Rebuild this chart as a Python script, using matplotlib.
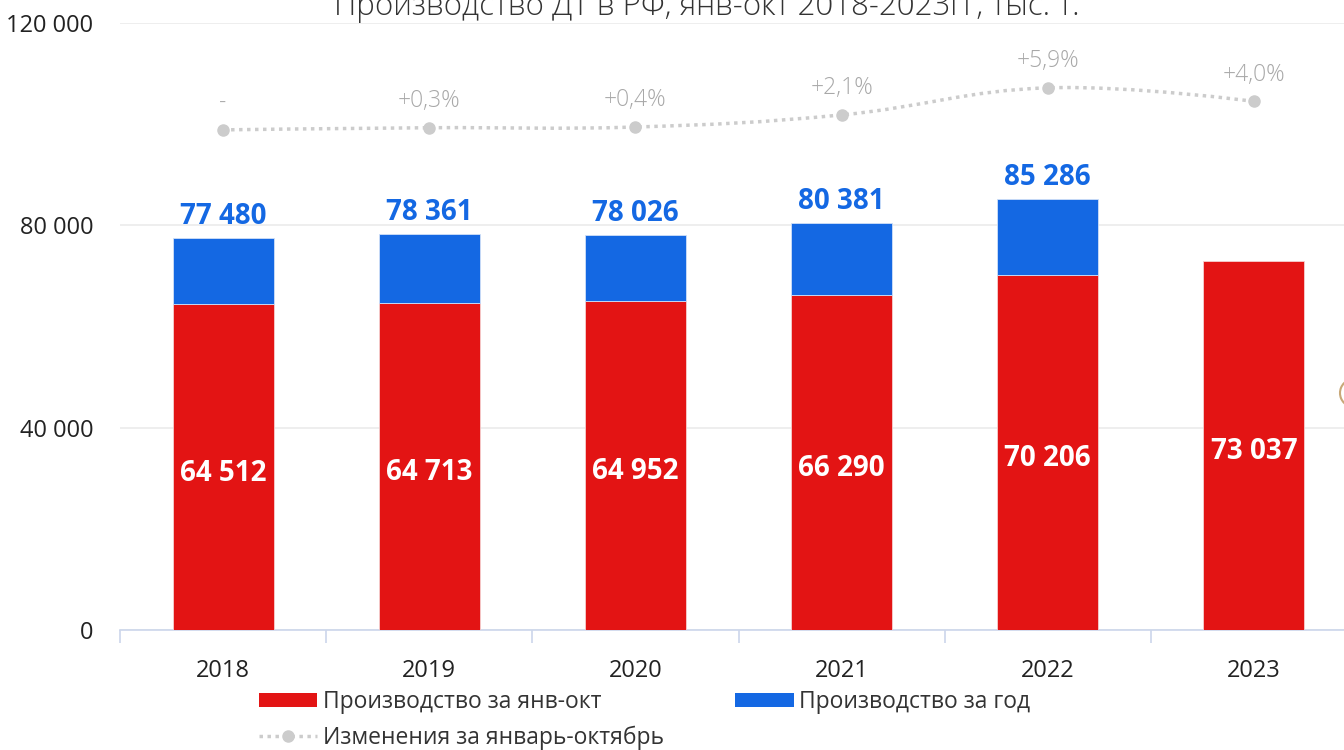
import matplotlib
matplotlib.use("Agg")
import matplotlib.pyplot as plt
from matplotlib.path import Path
from matplotlib.patches import PathPatch, Patch, Arc
from matplotlib.lines import Line2D
import numpy as np

plt.rcParams['font.family'] = ['Open Sans', 'DejaVu Sans']

years = ['2018', '2019', '2020', '2021', '2022', '2023']
jan_oct = [64512, 64713, 64952, 66290, 70206, 73037]
full_year = [77480, 78361, 78026, 80381, 85286, None]
change_pct = [0.0, 0.3, 0.4, 2.1, 5.9, 4.0]
change_labels = ['-', '+0,3%', '+0,4%', '+2,1%', '+5,9%', '+4,0%']
title = 'Производство ДТ в РФ, янв-окт 2018-2023гг, тыс. т.'
legend_labels = ['Производство за янв-окт', 'Производство за год', 'Изменения за январь-октябрь']
yticks = [0, 40000, 80000, 120000]

RED = '#e31414'
BLUE = '#1468e3'
GRAY = '#cccccc'

W, H = 1344, 750
fig = plt.figure(figsize=(W / 100, H / 100), dpi=100)
left_px, right_px, top_px, bot_px = 120, 1357, 23, 630
ax = fig.add_axes([left_px / W, (H - bot_px) / H, (right_px - left_px) / W, (bot_px - top_px) / H])

x = np.arange(len(years))
bw = 0.49
ax.bar(x, jan_oct, width=bw, color=RED, edgecolor='#f5d0d0', linewidth=0.6, zorder=3)
for i, (r, t) in enumerate(zip(jan_oct, full_year)):
    if t is not None:
        ax.bar(x[i], t - r, bottom=r, width=bw, color=BLUE, edgecolor='#d0e0f8', linewidth=0.6, zorder=3)
        ax.text(x[i], t + 1400, f"{t:,}".replace(',', ' '), ha='center', va='bottom',
                fontsize=20, fontweight='bold', color=BLUE, zorder=5)
    ax.annotate(f"{r:,}".replace(',', ' '), (x[i], r / 2), xytext=(0, -4.5), textcoords='offset points',
                ha='center', va='center', fontsize=20, fontweight='bold', color='white', zorder=5)

ax.set_xlim(-0.5, len(years) - 0.5)
ax.set_ylim(0, 120000)
ax.set_yticks(yticks)
ax.set_yticklabels([f"{v:,}".replace(',', ' ') for v in yticks])
ax.set_xticks(x)
ax.set_xticklabels(years)
ax.set_xticks(np.arange(-0.5, len(years)), minor=True)
ax.tick_params(axis='x', which='major', length=0, pad=21, labelsize=17, labelcolor='#222222')
ax.tick_params(axis='x', which='minor', length=9, width=1.2, color='#ccd6eb', direction='out')
ax.tick_params(axis='y', length=0, pad=19, labelsize=17, labelcolor='#222222')
ax.grid(axis='y', color='#ebebeb', linewidth=1.2, zorder=0)
for s in ['top', 'right', 'left']:
    ax.spines[s].set_visible(False)
ax.spines['bottom'].set_color('#ccd6eb')
ax.spines['bottom'].set_linewidth(1.2)
ax.set_axisbelow(True)

# secondary axis for the change line
ax2 = ax.twinx()
ax2.set_ylim(-70.2, 15.0)
ax2.axis('off')

# smooth spline through the points (Highcharts-like)
xs = list(x.astype(float))
ys = change_pct
verts = [(xs[0], ys[0])]
codes = [Path.MOVETO]
sm = 1.5
def ctrl(i):
    if i == 0 or i == len(xs) - 1:
        return (xs[i], ys[i]), (xs[i], ys[i])
    px, py = xs[i - 1], ys[i - 1]
    nx, ny = xs[i + 1], ys[i + 1]
    lx = (sm * xs[i] + px) / (sm + 1)
    ly = (sm * ys[i] + py) / (sm + 1)
    rx = (sm * xs[i] + nx) / (sm + 1)
    ry = (sm * ys[i] + ny) / (sm + 1)
    if rx != lx:
        slope = (ry - ly) / (rx - lx)
        ly = ly - (ly - ys[i]) + (lx - xs[i]) * slope
        ry = ry - (ry - ys[i]) + (rx - xs[i]) * slope
    return (lx, ly), (rx, ry)
for i in range(1, len(xs)):
    _, r_prev = ctrl(i - 1)
    l_cur, _ = ctrl(i)
    verts += [r_prev, l_cur, (xs[i], ys[i])]
    codes += [Path.CURVE4] * 3
ax2.add_patch(PathPatch(Path(verts, codes), facecolor='none', edgecolor=GRAY,
                        linewidth=2.5, linestyle=(0, (1, 1.3)), zorder=4))
ax2.plot(xs, ys, 'o', color=GRAY, markersize=8, zorder=5)
for xi, yi, lab in zip(xs, ys, change_labels):
    ax2.annotate(lab, (xi, yi), xytext=(0, 10.5), textcoords='offset points',
                 ha='center', va='bottom', fontsize=16.5, color='#a8a8a8', fontweight='light')

# title (partially cut off at top as in the reference)
fig.text(707 / W, (H - 15) / H, title, ha='center', va='baseline', fontsize=22.5,
         color='#333333', fontweight='light')

# legend (column-wise fill: red, line | blue)
handles = [Patch(facecolor=RED, edgecolor='none'),
           Line2D([], [], color=GRAY, linestyle=(0, (1, 1.3)), linewidth=2.5,
                  marker='o', markersize=8),
           Patch(facecolor=BLUE, edgecolor='none')]
labels = [legend_labels[0], legend_labels[2], legend_labels[1]]
fig.legend(handles, labels, ncol=2, loc='upper left',
           bbox_to_anchor=(259 / W, (H - 690) / H), frameon=False, fontsize=16.5,
           handlelength=2.55, handleheight=0.6, handletextpad=0.25, columnspacing=3.1,
           labelspacing=0.5, labelcolor='#333333', borderpad=0, borderaxespad=0)

# partially visible decoration at right edge
fig.patches.append(Arc((1354, H - 393), 28, 28, transform=None, color='#c8a878', linewidth=1.5))

fig.savefig('out.png', dpi=100)
